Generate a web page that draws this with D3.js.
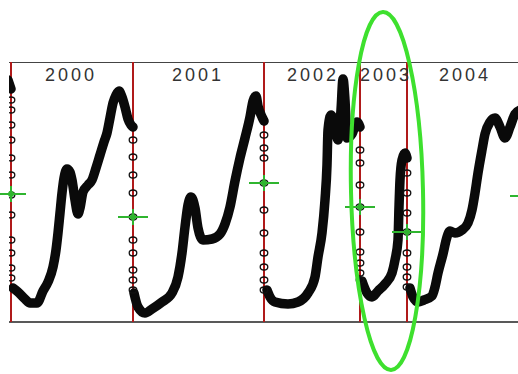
<!DOCTYPE html>
<html><head><meta charset="utf-8">
<script src="https://cdn.jsdelivr.net/npm/d3@7"></script>
<style>html,body{margin:0;padding:0;background:#fff;}svg{display:block;}</style>
</head><body>
<svg id="chart" width="518" height="374"></svg>
<script>
// ---- data (t = time index, v = index value) ----
const yearLabels = ["2000", "2001", "2002", "2003", "2004"];
const labelT = [34, 161, 276, 349, 428];
const boundaryT = [0, 122, 253, 349, 396];

const seg1999 = [[-3, 242], [0, 233]];
const seg2000 = [[2,34],[7,30],[14,23],[19,19],[26,19],[32,31],[37,40],[42,55],[45,72],[47,89],[49,109],[51,129],[53,144],[56,153],[59,150],[61,142],[64,122],[67,108],[69,114],[72,130],[77,137],[81,142],[85,154],[89,167],[93,180],[96,189],[99,204],[102,219],[105,227],[108,231],[111,225],[114,215],[117,203],[120,197],[122,195]];
const seg2001 = [[123,29],[127,15],[134,9],[141,13],[151,20],[161,29],[167,45],[171,69],[174,95],[177,117],[180,125],[184,114],[187,94],[192,82],[201,83],[209,88],[214,98],[219,115],[224,141],[229,164],[234,184],[239,205],[242,221],[245,226],[247,216],[251,205],[253,201]];
const seg2002 = [[256,32],[259,25],[264,20],[277,18],[287,20],[297,29],[304,45],[307,65],[311,89],[314,122],[316,157],[317,192],[320,207],[323,200],[327,182],[330,212],[332,243],[334,222],[336,184],[341,188],[346,200],[349,195]];
const seg2003 = [[351,41],[356,29],[361,25],[367,31],[374,38],[381,49],[384,62],[387,82],[388,115],[389,142],[391,162],[394,169],[396,164]];
const seg2004 = [[399,34],[402,25],[407,20],[413,22],[421,26],[424,35],[427,49],[432,68],[436,85],[439,91],[444,89],[451,92],[457,99],[461,112],[464,129],[467,149],[471,172],[474,188],[479,200],[484,204],[489,195],[494,184],[499,195],[504,208],[509,212]];

// values of the points stacked on each boundary
const jump0 = [222,212,197,182,164,147,127,107,82,69,54,44];
const jump1 = [182,165,147,129,105,82,69,52,42,32];
const jump2 = [187,174,164,139,112,89,69,55,42,32];
const jump3 = [172,159,137,115,90,70,59,49,42];
const jump4 = [149,129,109,90,69,55,45,35];

// green markers (t, v)
const markerT = [0, 122, 253, 349, 396, 514];
const markerV = [128, 105, 139, 115, 90, 126];

// ---- drawing ----
const svg = d3.select("#chart");
const x = d3.scaleLinear().domain([-2, 507]).range([9, 518]);
const y = d3.scaleLinear().domain([0, 260]).range([322, 62]);

svg.append("defs").append("clipPath").attr("id", "clip")
  .append("rect").attr("x", x(-2)).attr("y", y(260)).attr("width", x(507) - x(-2)).attr("height", y(0) - y(260));

// frame lines
svg.append("line").attr("x1", x(-2)).attr("x2", x(507)).attr("y1", y(260) + 0.5).attr("y2", y(260) + 0.5)
  .attr("stroke", "#444").attr("stroke-width", 1.2);
svg.append("line").attr("x1", x(-2)).attr("x2", x(507)).attr("y1", y(0)).attr("y2", y(0))
  .attr("stroke", "#222").attr("stroke-width", 1.5);

const g = svg.append("g").attr("clip-path", "url(#clip)");

// red boundary lines
g.selectAll("line.bound").data(boundaryT).join("line").attr("class", "bound")
  .attr("x1", d => x(d)).attr("x2", d => x(d)).attr("y1", y(260)).attr("y2", y(0))
  .attr("stroke", "#b01a1a").attr("stroke-width", 2);

// curve
const line = d3.line().x(d => x(d[0])).y(d => y(d[1])).curve(d3.curveMonotoneX);
[seg1999, seg2000, seg2001, seg2002, seg2003, seg2004].forEach(s => {
  g.append("path").attr("d", line(s)).attr("fill", "none")
    .attr("stroke", "#0a0a0a").attr("stroke-width", 9.5)
    .attr("stroke-linecap", "round").attr("stroke-linejoin", "round");
});

// stacked points on boundaries
const jumps = [jump0, jump1, jump2, jump3, jump4];
jumps.forEach((arr, i) => {
  g.selectAll(null).data(arr).join("ellipse")
    .attr("cx", x(boundaryT[i])).attr("cy", d => y(d))
    .attr("rx", 3.8).attr("ry", 3)
    .attr("fill", "none").attr("stroke", "#111").attr("stroke-width", 1.3);
});

// year labels
svg.selectAll("text.year").data(yearLabels).join("text").attr("class", "year")
  .attr("x", (d, i) => x(labelT[i])).attr("y", 81)
  .attr("font-family", "Liberation Sans, Arial, sans-serif").attr("font-size", 18)
  .attr("letter-spacing", 3).attr("fill", "#333").text(d => d);

// green markers
const mk = svg.append("g");
markerT.forEach((t, i) => {
  const cx = x(t), cy = y(markerV[i]);
  mk.append("line").attr("x1", cx - 15).attr("x2", cx + 15).attr("y1", cy).attr("y2", cy)
    .attr("stroke", "#2fb52f").attr("stroke-width", 2);
  mk.append("line").attr("x1", cx).attr("x2", cx).attr("y1", cy - 8).attr("y2", cy + 8)
    .attr("stroke", "#2fb52f").attr("stroke-width", 2);
  mk.append("circle").attr("cx", cx).attr("cy", cy).attr("r", 3).attr("fill", "#2fb52f");
});

// highlight ellipse around 2003
svg.append("ellipse").attr("cx", 387).attr("cy", 191).attr("rx", 36).attr("ry", 179)
  .attr("transform", "rotate(-1.3 387 191)")
  .attr("fill", "none").attr("stroke", "#3ee02e").attr("stroke-width", 4);
</script>
</body></html>
